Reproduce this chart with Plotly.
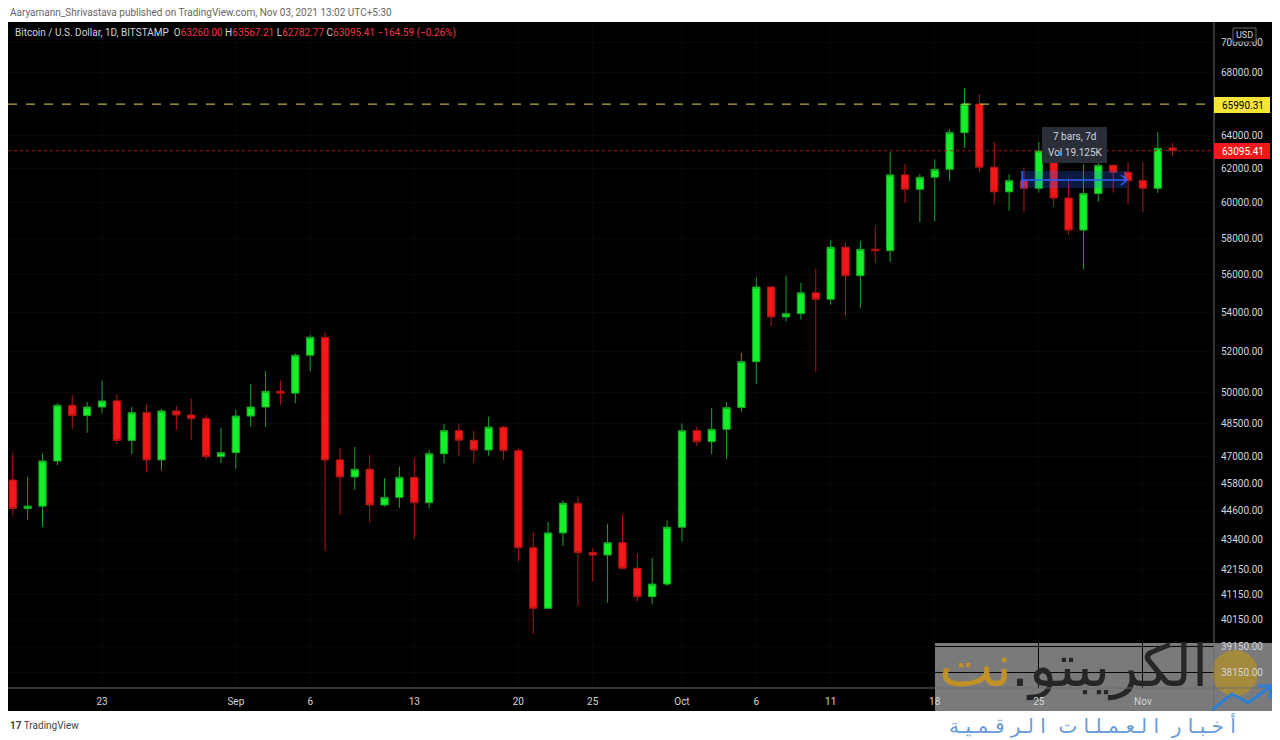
import pandas as pd
import plotly.graph_objects as go

# daily BTC/USD candles, Bitstamp, Aug 17 - Nov 3 2021
dates = pd.date_range("2021-08-17", "2021-11-03", freq="D")

opens = [45940, 44700, 44800, 46790, 49370, 48880, 49290, 49580, 47730, 49020,
         46840, 49100, 48910, 48740, 46990, 47170, 48860, 49290, 50040, 49950,
         51810, 52710, 46840, 46080, 46420, 44850, 45180, 46060, 44950, 47120,
         48180, 47740, 47290, 48340, 47260, 43040, 40600, 43660, 44920, 42840,
         42740, 43250, 42200, 41060, 41560, 43900, 48180, 47670, 48240, 49260,
         51490, 55330, 53760, 53930, 55020, 54680, 57490, 55940, 57380, 57300,
         61640, 60790, 61500, 61970, 64200, 65990.31, 62100, 60640, 61300, 60850,
         63080, 60280, 58450, 60540, 62210, 61800, 61300, 60850, 63260.00]
highs = [47170, 46080, 47120, 49470, 49850, 49530, 50560, 49900, 49290, 49430,
         49200, 49340, 49690, 48910, 48320, 49150, 50400, 51030, 50560, 51910,
         52830, 52980, 47380, 47430, 47060, 46020, 46540, 46920, 47290, 48490,
         48520, 48160, 48830, 48400, 47370, 43690, 44130, 45050, 45200, 43030,
         44040, 44420, 42810, 42630, 44190, 48520, 48370, 49230, 49510, 51930,
         55840, 55350, 55930, 55550, 56310, 57880, 57750, 57820, 58720, 62990,
         62270, 61690, 62570, 64430, 67000, 66620, 63670, 61680, 62100, 63630,
         63300, 61440, 62270, 62670, 62290, 62390, 62400, 64240, 63567.21]
lows = [44400, 44200, 43920, 46610, 48260, 48080, 48990, 47560, 47100, 46270,
        46360, 48210, 47750, 46840, 46690, 46450, 48360, 48360, 49390, 49470,
        51020, 42900, 44420, 45500, 44100, 44780, 44730, 43390, 44700, 46690,
        47030, 46690, 47030, 46840, 42470, 39600, 40600, 43110, 40690, 41670,
        40820, 42150, 40890, 40760, 41480, 43290, 47470, 47100, 46880, 49070,
        50400, 53290, 53530, 53620, 50970, 54400, 53790, 54220, 56610, 56670,
        60010, 58910, 58950, 61280, 63270, 61800, 59900, 59550, 59450, 60600,
        59780, 58190, 56280, 60070, 60600, 59910, 59470, 60580, 62782.77]
closes = [44700, 44800, 46790, 49370, 48880, 49290, 49580, 47730, 49020, 46840,
          49100, 48910, 48740, 46990, 47170, 48860, 49290, 50040, 49950, 51810,
          52710, 46840, 46080, 46420, 44850, 45180, 46060, 44950, 47120, 48180,
          47740, 47290, 48340, 47260, 43040, 40600, 43660, 44920, 42840, 42740,
          43250, 42200, 41060, 41560, 43900, 48180, 47670, 48240, 49260, 51490,
          55330, 53760, 53930, 55020, 54680, 57490, 55940, 57380, 57300, 61640,
          60790, 61500, 61970, 64200, 65990.31, 62100, 60640, 61300, 60850, 63080,
          60280, 58450, 60540, 62210, 61800, 61300, 60850, 63240, 63095.41]

price_ticks = [38150, 39150, 40150, 41150, 42150, 43400, 44600, 45800, 47000,
               48500, 50000, 52000, 54000, 56000, 58000, 60000, 62000, 64000,
               68000, 70000]
date_ticks = ["2021-08-23", "2021-09-01", "2021-09-06", "2021-09-13", "2021-09-20",
              "2021-09-25", "2021-10-01", "2021-10-06", "2021-10-11", "2021-10-18",
              "2021-10-25", "2021-11-01"]
date_labels = ["23", "Sep", "6", "13", "20", "25", "Oct", "6", "11", "18", "25", "Nov"]

prev_high_line = 65990.31
last_close = 63095.41

GREEN = "#14f02a"
RED = "#f01818"
FONT = "Roboto"

# the page body has an 8px margin, so the figure is 8px smaller than the window
# pixel helpers below use window coordinates (plot area is x 8..1214, y 22..688)
def px(x):
    return (x - 8) / 1206

def py(y):
    return (688 - y) / 666


fig = go.Figure()
fig.add_trace(go.Candlestick(
    x=dates, open=opens, high=highs, low=lows, close=closes,
    increasing=dict(line=dict(color="#17a824", width=1), fillcolor=GREEN),
    decreasing=dict(line=dict(color="#b81414", width=1), fillcolor=RED),
    whiskerwidth=0,
    showlegend=False,
))

# watermark logo text on a hidden pixel-space overlay, so the axis labels stay on top
fig.add_trace(go.Scatter(
    x=[1208, 1012], y=[671, 671], text=[".الكريبتو", "نت"],
    mode="text", textposition="middle left",
    textfont=dict(size=58, color=["#262626", "#bf9126"], family="DejaVu Sans"),
    cliponaxis=False, hoverinfo="skip", showlegend=False,
    xaxis="x2", yaxis="y2",
))

shapes = [
    # dark chart background incl. axis panels
    dict(type="rect", xref="paper", yref="paper", x0=px(8), x1=px(1272), y0=py(711), y1=py(22),
         fillcolor="black", line_width=0, layer="below"),
    # watermark box, coin and arrow (under the axis labels)
    dict(type="rect", xref="paper", yref="paper", x0=px(935), x1=px(1272), y0=py(711), y1=py(643),
         fillcolor="#7a7a7a", line_width=0, layer="below"),
    dict(type="circle", xref="paper", yref="paper", x0=px(1212), x1=px(1258), y0=py(696), y1=py(650),
         fillcolor="#a48a3c", line_width=0, layer="below"),
    dict(type="line", xref="paper", yref="paper", x0=1, x1=1, y0=py(711), y1=py(22),
         line=dict(color="#6a6d78", width=1)),
    dict(type="line", xref="paper", yref="paper", x0=0, x1=px(1272), y0=0, y1=0,
         line=dict(color="#6a6d78", width=1)),
    dict(type="path", xref="paper", yref="paper",
         path="M %f,%f L %f,%f L %f,%f L %f,%f" % (px(1212), py(710), px(1232), py(694),
                                                   px(1248), py(703), px(1270), py(687)),
         line=dict(color="#2a7fd4", width=3)),
    dict(type="path", xref="paper", yref="paper",
         path="M %f,%f L %f,%f L %f,%f" % (px(1258), py(686), px(1271), py(686), px(1270), py(699)),
         line=dict(color="#2a7fd4", width=3)),
    # previous high / last price lines
    dict(type="line", xref="paper", yref="y", x0=0, x1=1, y0=prev_high_line, y1=prev_high_line,
         line=dict(color="#e8d84a", width=1, dash="dash")),
    dict(type="line", xref="paper", yref="y", x0=0, x1=1, y0=last_close, y1=last_close,
         line=dict(color="#a01c1c", width=1, dash="dot")),
    # date range measuring tool
    dict(type="rect", xref="paper", yref="paper", x0=px(1022), x1=px(1127), y0=py(188), y1=py(171),
         fillcolor="rgba(41,98,255,0.25)", line_width=0, layer="above"),
    dict(type="line", xref="paper", yref="paper", x0=px(1022), x1=px(1126), y0=py(180), y1=py(180),
         line=dict(color="#2962ff", width=1.5)),
    dict(type="line", xref="paper", yref="paper", x0=px(1022), x1=px(1022), y0=py(188), y1=py(171),
         line=dict(color="#2962ff", width=1.5)),
    dict(type="path", xref="paper", yref="paper",
         path="M %f,%f L %f,%f L %f,%f" % (px(1121), py(175), px(1127), py(180), px(1121), py(185)),
         line=dict(color="#2962ff", width=1.5)),
    # tooltip
    dict(type="rect", xref="paper", yref="paper", x0=px(1042), x1=px(1107), y0=py(163), y1=py(127),
         fillcolor="#2a2e39", line_width=0, layer="above"),
    # axis price labels
    dict(type="rect", xref="paper", yref="paper", x0=1, x1=px(1270), y0=py(113), y1=py(97),
         fillcolor="#f7e43a", line_width=0, layer="above"),
    dict(type="rect", xref="paper", yref="paper", x0=1, x1=px(1270), y0=py(159), y1=py(143),
         fillcolor=RED, line_width=0, layer="above"),
    dict(type="rect", xref="paper", yref="paper", x0=px(1233), x1=px(1256), y0=py(42), y1=py(28),
         fillcolor="black", line=dict(color="#666", width=1), layer="above"),
]

# spaced-out tagline: tatweels between joined letters, spaces after non-joining ones
tagline = "أ خـبـا ر  ا لـعـمـلـا ت  ا لـر قـمـيـة"

annotations = [
    dict(text="Aaryamann_Shrivastava published on TradingView.com, Nov 03, 2021 13:02 UTC+5:30",
         x=px(8), y=py(12), font=dict(size=10, color="#666")),
    dict(text=("Bitcoin / U.S. Dollar, 1D, BITSTAMP  O<span style='color:#f23645'>63260.00</span>"
               " H<span style='color:#f23645'>63567.21</span>"
               " L<span style='color:#f23645'>62782.77</span>"
               " C<span style='color:#f23645'>63095.41</span>"
               " <span style='color:#f23645'>\u2212164.59 (\u22120.26%)</span>"),
         x=px(13), y=py(33), font=dict(size=10, color="#d1d4dc")),
    dict(text="65990.31", x=px(1220), y=py(105), font=dict(size=10, color="black")),
    dict(text="63095.41", x=px(1220), y=py(151), font=dict(size=10, color="white")),
    dict(text="USD", x=px(1244.5), y=py(35), xanchor="center", font=dict(size=9, color="#d1d4dc")),
    dict(text="7 bars, 7d", x=px(1074.5), y=py(136), xanchor="center", font=dict(size=10, color="#d1d4dc")),
    dict(text="Vol 19.125K", x=px(1074.5), y=py(153), xanchor="center", font=dict(size=10, color="#d1d4dc")),
    dict(text="<b>17</b> TradingView", x=px(8), y=py(725), font=dict(size=10, color="#444")),
    dict(text=tagline, x=px(1238), y=py(725), xanchor="right",
         font=dict(size=20, color="#6a9bd8", family="DejaVu Sans")),
]
for a in annotations:
    a.setdefault("xref", "paper")
    a.setdefault("yref", "paper")
    a.setdefault("xanchor", "left")
    a.setdefault("yanchor", "middle")
    a["showarrow"] = False

fig.update_layout(
    width=1272, height=732,
    margin=dict(l=0, r=66, t=14, b=52),
    paper_bgcolor="white",
    plot_bgcolor="black",
    font=dict(family=FONT, size=10, color="#d1d4dc"),
    shapes=shapes,
    annotations=annotations,
    xaxis=dict(
        type="date",
        range=["2021-08-16 16:17", "2021-11-05 18:43"],
        rangeslider=dict(visible=False),
        tickvals=date_ticks, ticktext=date_labels,
        showgrid=True, gridcolor="#080808", zeroline=False,
        ticks="", ticklabelstandoff=6,
        tickfont=dict(size=10, color="#d1d4dc"),
    ),
    yaxis=dict(
        type="log",
        side="right",
        range=[4.57519, 4.85384],
        tickvals=price_ticks, ticktext=["%.2f" % v for v in price_ticks],
        showgrid=True, gridcolor="#080808", zeroline=False,
        ticks="", ticklabelstandoff=6,
        tickfont=dict(size=10, color="#d1d4dc"),
    ),
    # hidden pixel-space axes for the watermark text
    xaxis2=dict(overlaying="x", range=[8, 1214], visible=False),
    yaxis2=dict(overlaying="y", range=[688, 22], visible=False),
    boxgap=0.3,
)

fig.write_html("out.html")
